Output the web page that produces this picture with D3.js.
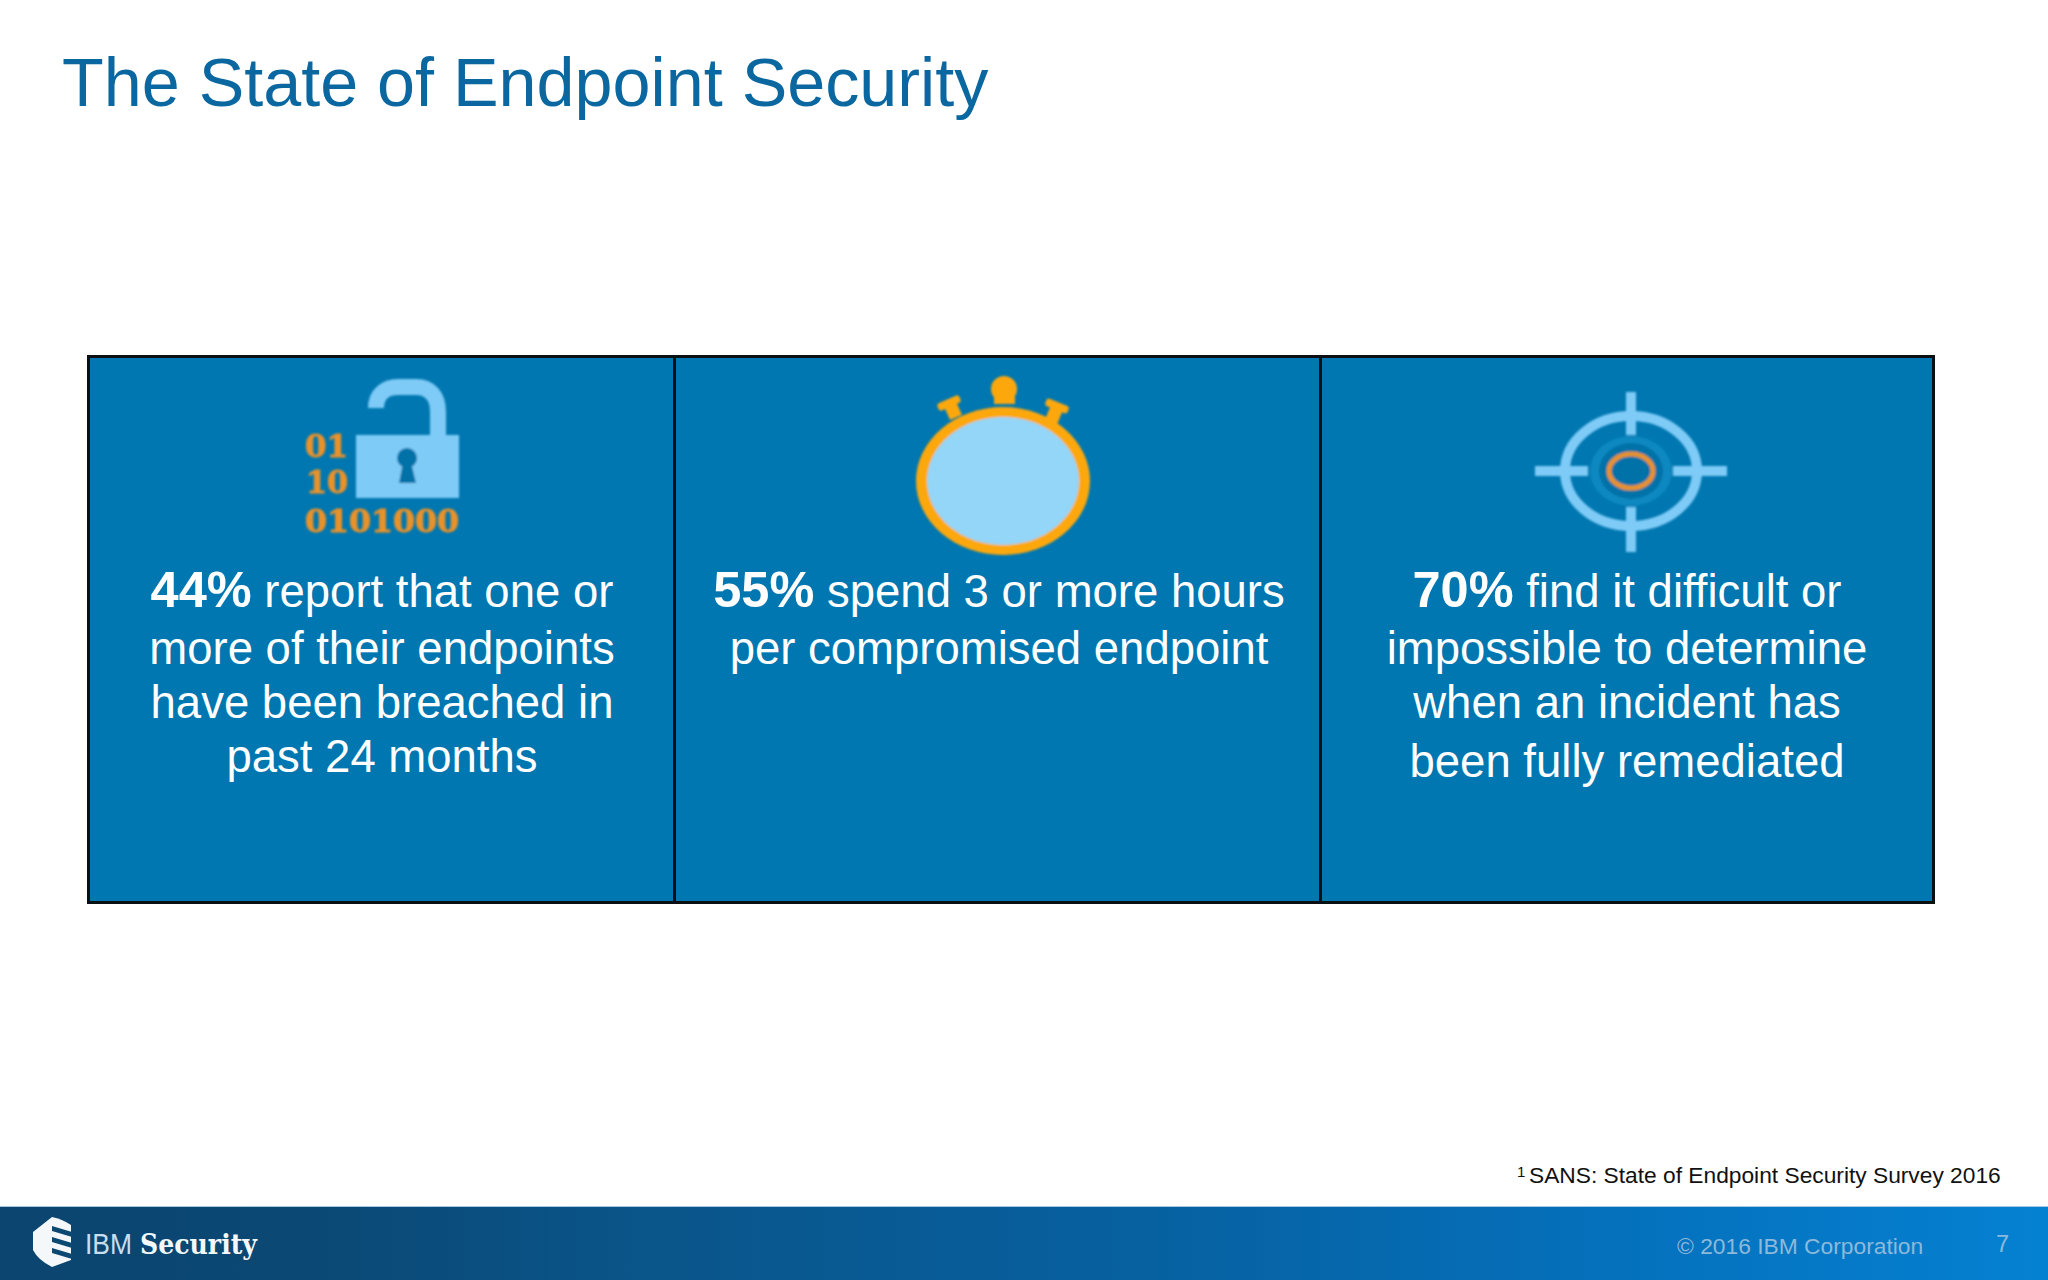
<!DOCTYPE html>
<html><head><meta charset="utf-8">
<script src="https://cdn.jsdelivr.net/npm/d3@7"></script>
<style>html,body{margin:0;padding:0;background:#fff}svg{display:block}text{font-family:"Liberation Sans",Arial,sans-serif}</style>
</head><body><svg id="c" width="2048" height="1280"></svg>
<script>
const titleText = "The State of Endpoint Security";
const percents = ["44%","55%","70%"];
const firstLines = [" report that one or"," spend 3 or more hours"," find it difficult or"];
const line2 = ["more of their endpoints","per compromised endpoint","impossible to determine"];
const line3 = ["have been breached in","","when an incident has"];
const line4 = ["past 24 months","","been fully remediated"];
const panelEdges = [88.5,674.5,1320.5,1933.5];
const textCentres = [382,999,1627];
const baselines = [[607,664,718,772],[607,664,718,772],[607,664,718,777]];
const binary = ["01","10","0101000"];
const source = "SANS: State of Endpoint Security Survey 2016";
const copyright = "© 2016 IBM Corporation";
const pageNo = "7";

const svg = d3.select("#c");
const defs = svg.append("defs");
const grad = defs.append("linearGradient").attr("id","foot");
[[0,"#0b4570"],[0.15,"#0b4874"],[0.3,"#0a5488"],[0.55,"#07609f"],[0.78,"#0570bb"],[1,"#0581d2"]].forEach(s=>grad.append("stop").attr("offset",s[0]).attr("stop-color",s[1]));
defs.append("filter").attr("id","soft").append("feGaussianBlur").attr("stdDeviation",0.8);

svg.append("text").attr("x",62).attr("y",106).attr("font-size",68.3).attr("fill","#0b67a0").text(titleText);

// panels
const panels = svg.append("g");
panels.selectAll("rect").data(d3.pairs(panelEdges)).join("rect")
  .attr("x",d=>d[0]).attr("y",356.5).attr("width",d=>d[1]-d[0]).attr("height",546)
  .attr("fill","#0077b0").attr("stroke","#0a0f14").attr("stroke-width",3);

// panel text
percents.forEach((p,i)=>{
  const g = svg.append("g").attr("fill","#fff").attr("text-anchor","middle").attr("font-size",45.5);
  const t = g.append("text").attr("x",textCentres[i]).attr("y",baselines[i][0]);
  t.append("tspan").attr("font-weight","bold").attr("font-size",50.5).text(p);
  t.append("tspan").style("white-space","pre").text(firstLines[i]);
  [line2,line3,line4].forEach((l,k)=>{
    if(l[i]) g.append("text").attr("x",textCentres[i]).attr("y",baselines[i][k+1]).text(l[i]);
  });
});

// lock icon
const lockBlue="#7fcbf7", orange="#e8922c", gold="#fca80f", pale="#93d6f7";
const lock = svg.append("g").attr("filter","url(#soft)");
lock.append("path").attr("d","M376,408 C376,394 386,387 398,387 L416,387 C430,387 438,396 438,412 L438,437")
  .attr("fill","none").attr("stroke",lockBlue).attr("stroke-width",16);
lock.append("rect").attr("x",356).attr("y",435).attr("width",103).attr("height",63).attr("fill",lockBlue);
lock.append("circle").attr("cx",407).attr("cy",458).attr("r",10).attr("fill","#0672a8");
lock.append("path").attr("d","M403,462 L411,462 L416,483 L399,483 Z").attr("fill","#0672a8");
lock.selectAll("text").data(binary).join("text")
  .attr("x",(d,i)=>i==1?306:305).attr("y",(d,i)=>[457,493,532][i])
  .attr("font-size",32).attr("font-weight","bold").attr("fill",orange)
  .attr("stroke",orange).attr("stroke-width",1)
  .attr("textLength",(d,i)=>[43,42,154][i]).attr("lengthAdjust","spacingAndGlyphs")
  .style("font-family","'DejaVu Serif',serif").text(d=>d);

// stopwatch
const sw = svg.append("g").attr("filter","url(#soft)");
sw.append("circle").attr("cx",1004).attr("cy",389).attr("r",13).attr("fill",gold);
sw.append("rect").attr("x",994).attr("y",390).attr("width",21).attr("height",14).attr("fill",gold);
[[949,403,-24],[1057,406,22]].forEach(b=>{
  const g=sw.append("g").attr("transform",`translate(${b[0]},${b[1]}) rotate(${b[2]})`).attr("fill",gold);
  g.append("rect").attr("x",-6).attr("y",0).attr("width",13).attr("height",16);
  g.append("rect").attr("x",-12).attr("y",-4).attr("width",24).attr("height",8).attr("rx",3);
});
sw.append("ellipse").attr("cx",1003).attr("cy",481).attr("rx",87).attr("ry",74).attr("fill",gold);
sw.append("ellipse").attr("cx",1003).attr("cy",481).attr("rx",76).attr("ry",64).attr("fill",pale);

// target
const tg = svg.append("g").attr("filter","url(#soft)");
tg.append("ellipse").attr("cx",1631).attr("cy",471).attr("rx",66).attr("ry",55).attr("fill","none").attr("stroke",lockBlue).attr("stroke-width",10);
[[1626,392,10,43],[1626,507,10,45],[1535,466,53,10],[1673,466,54,10]].forEach(r=>tg.append("rect").attr("x",r[0]).attr("y",r[1]).attr("width",r[2]).attr("height",r[3]).attr("fill",lockBlue));
tg.append("ellipse").attr("cx",1631).attr("cy",471).attr("rx",41).attr("ry",35).attr("fill","#0a88c0");
tg.append("ellipse").attr("cx",1631).attr("cy",471).attr("rx",32).attr("ry",28).attr("fill","#0672a8");
tg.append("ellipse").attr("cx",1631).attr("cy",471).attr("rx",22).attr("ry",17).attr("fill","none").attr("stroke",orange).attr("stroke-width",5);

// source
svg.append("text").attr("x",1517).attr("y",1177).attr("font-size",15).attr("fill","#111").text("1");
svg.append("text").attr("x",1529).attr("y",1183).attr("font-size",22.75).attr("fill","#111").text(source);

// footer
svg.append("rect").attr("x",0).attr("y",1206).attr("width",2048).attr("height",74).attr("fill","url(#foot)");
svg.append("rect").attr("x",0).attr("y",1206).attr("width",2048).attr("height",1).attr("fill","#a9c9e2");
svg.append("path").attr("d","M33,1232 L52,1217 Q62,1219 71,1225 L71,1260 L52,1267 Q38,1260 33,1250 Z").attr("fill","#f4f8fb");
[1229,1240,1251].forEach(y=>svg.append("path").attr("d",`M52,${y-3} L72,${y+3} L72,${y+8} L52,${y+2} Z`).attr("fill","#0b4872"));
svg.append("text").attr("x",85).attr("y",1254).attr("font-size",30).attr("fill","#c8deee").attr("textLength",47).attr("lengthAdjust","spacingAndGlyphs").text("IBM");
svg.append("text").attr("x",140).attr("y",1254).attr("font-size",28).attr("font-weight","bold").attr("fill","#f4f8fb").attr("textLength",117).attr("lengthAdjust","spacingAndGlyphs").style("font-family","'DejaVu Serif',serif").text("Security");
svg.append("text").attr("x",1677).attr("y",1254).attr("font-size",22.8).attr("fill","#8db9da").text(copyright);
svg.append("text").attr("x",1996).attr("y",1252).attr("font-size",23.5).attr("fill","#8db9da").text(pageNo);
</script></body></html>
